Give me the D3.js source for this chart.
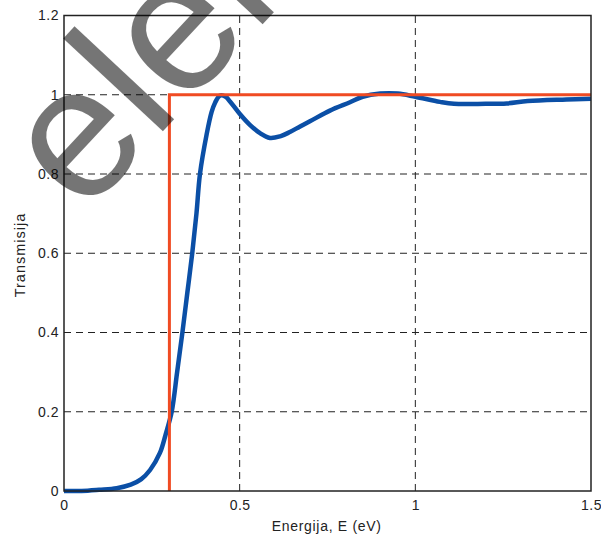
<!DOCTYPE html>
<html>
<head>
<meta charset="utf-8">
<script src="https://cdn.jsdelivr.net/npm/d3@7/dist/d3.min.js"></script>
<style>
  html, body { margin: 0; padding: 0; background: #fff; }
  svg { display: block; font-family: "Liberation Sans", Arial, Helvetica, sans-serif; }
</style>
</head>
<body>
<svg id="chart" width="601" height="535"></svg>
<script>
// ---- data ----
const energy = [0, 0.05, 0.1, 0.15, 0.19, 0.22, 0.245, 0.273, 0.29, 0.3065, 0.322, 0.337, 0.351, 0.365, 0.377, 0.387, 0.406, 0.42, 0.43, 0.444, 0.46, 0.4725, 0.5, 0.529, 0.558, 0.586, 0.615, 0.643, 0.672, 0.70, 0.757, 0.814, 0.85, 0.9, 0.95, 1.0, 1.07, 1.11, 1.2, 1.26, 1.32, 1.43, 1.5];
const transmission = [0, 0, 0.003, 0.007, 0.016, 0.03, 0.053, 0.096, 0.145, 0.2, 0.3, 0.4, 0.5, 0.6, 0.7, 0.8, 0.9, 0.956, 0.98, 0.998, 0.995, 0.983, 0.952, 0.924, 0.903, 0.891, 0.895, 0.906, 0.92, 0.933, 0.96, 0.981, 0.995, 1.003, 1.003, 0.995, 0.982, 0.977, 0.977, 0.978, 0.984, 0.988, 0.99];
const stepEnergy = [0.3, 0.3, 1.5];
const stepTransmission = [0, 1, 1];
const xTicks = [0, 0.5, 1, 1.5];
const yTicks = [0, 0.2, 0.4, 0.6, 0.8, 1, 1.2];
const xTitle = "Energija, E (eV)";
const yTitle = "Transmisija";
const watermark = "elek";

// ---- layout ----
const svg = d3.select("#chart");
const L = 64, R = 591, T = 15.5, B = 491;
const x = d3.scaleLinear().domain([0, 1.5]).range([L, R]);
const y = d3.scaleLinear().domain([0, 1.2]).range([B, T]);

// grid
const grid = svg.append("g").attr("stroke", "#222").attr("stroke-width", 1).attr("stroke-dasharray", "7,5");
grid.selectAll("line.v").data(xTicks.filter(d => d > 0 && d < 1.5)).join("line")
  .attr("x1", d => x(d)).attr("x2", d => x(d)).attr("y1", B).attr("y2", T);
grid.selectAll("line.h").data(yTicks.filter(d => d > 0 && d < 1.2)).join("line")
  .attr("y1", d => y(d)).attr("y2", d => y(d)).attr("x1", L).attr("x2", R);

// axes (labels)
const fmt = d => String(d);
const xAxis = svg.append("g").attr("transform", `translate(0,${B})`)
  .call(d3.axisBottom(x).tickValues(xTicks).tickFormat(fmt).tickSize(0).tickPadding(9));
const yAxis = svg.append("g").attr("transform", `translate(${L},0)`)
  .call(d3.axisLeft(y).tickValues(yTicks).tickFormat(fmt).tickSize(0).tickPadding(5));
[xAxis, yAxis].forEach(a => {
  a.select(".domain").remove();
  a.selectAll("text").attr("font-size", 14).attr("fill", "#222").attr("letter-spacing", 0.5)
    .attr("font-family", '"Liberation Sans", Arial, sans-serif');
});

// lines
svg.append("path")
  .datum(energy.map((e, i) => [e, transmission[i]]))
  .attr("fill", "none").attr("stroke", "#0b4fa6").attr("stroke-width", 4.5)
  .attr("stroke-linejoin", "round")
  .attr("d", d3.line().x(d => x(d[0])).y(d => y(d[1])).curve(d3.curveCatmullRom.alpha(0.5)));
svg.append("path")
  .datum(stepEnergy.map((e, i) => [e, stepTransmission[i]]))
  .attr("fill", "none").attr("stroke", "#f04b23").attr("stroke-width", 3)
  .attr("d", d3.line().x(d => x(d[0])).y(d => y(d[1])));

// box
svg.append("rect").attr("x", L).attr("y", T).attr("width", R - L).attr("height", B - T)
  .attr("fill", "none").attr("stroke", "#222").attr("stroke-width", 1.5);

// titles
svg.append("text").attr("x", 326.7).attr("y", 530.5).attr("text-anchor", "middle")
  .attr("font-size", 14).attr("letter-spacing", 0.7).attr("fill", "#222").text(xTitle);
svg.append("text").attr("transform", "translate(25,255) rotate(-90)").attr("text-anchor", "middle")
  .attr("font-size", 14.5).attr("letter-spacing", 1).attr("fill", "#222").text(yTitle);

// watermark
svg.append("text").attr("transform", "translate(83,217) rotate(-47)")
  .attr("font-size", 188).attr("fill", "#000").attr("fill-opacity", 0.54)
  .attr("font-family", '"Liberation Sans", Arial, sans-serif')
  .text(watermark);
</script>
</body>
</html>
